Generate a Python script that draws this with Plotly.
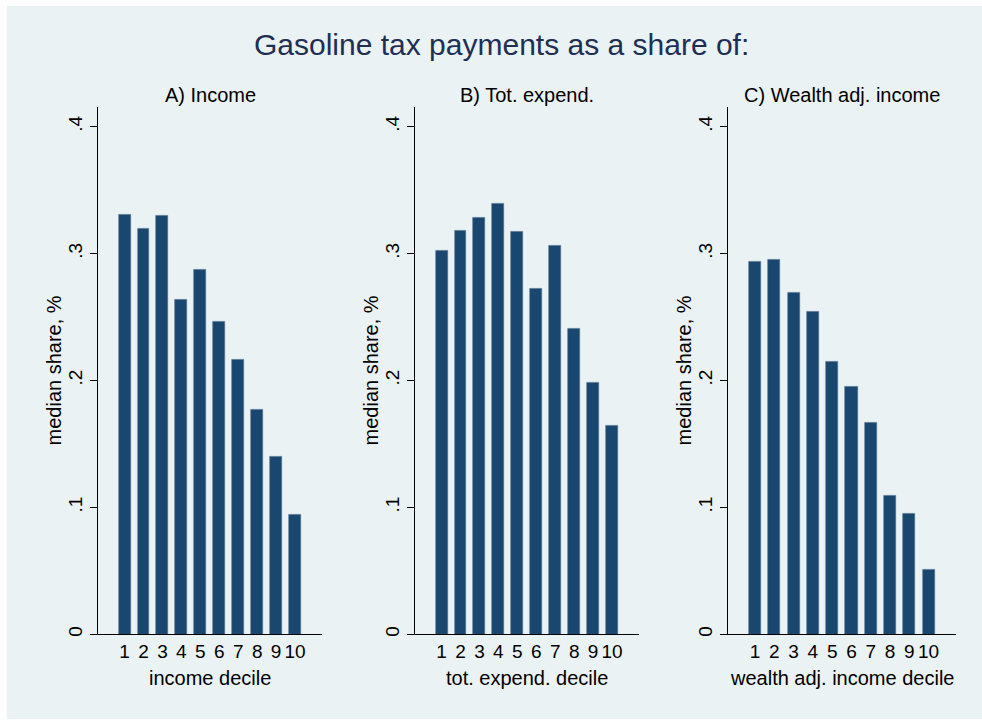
import plotly.graph_objects as go

# Median gasoline tax share (%) by decile, three ranking variables
deciles = list(range(1, 11))
share_income = [0.331, 0.320, 0.330, 0.264, 0.287, 0.246, 0.216, 0.177, 0.140, 0.094]
share_expend = [0.302, 0.318, 0.328, 0.339, 0.317, 0.272, 0.306, 0.241, 0.198, 0.164]
share_wealth = [0.294, 0.295, 0.269, 0.254, 0.215, 0.195, 0.167, 0.109, 0.095, 0.051]

panel_titles = ["A) Income", "B) Tot. expend.", "C) Wealth adj. income"]
x_titles = ["income decile", "tot. expend. decile", "wealth adj. income decile"]
y_title = "median share, %"
main_title = "Gasoline tax payments as a share of:"
y_ticks = [0, 0.1, 0.2, 0.3, 0.4]
y_tick_text = ["0", ".1", ".2", ".3", ".4"]
grid_vals = [0.1, 0.2, 0.3]

W, H = 982, 721
BAR = "#1a476f"
BG = "#eaf2f3"
FONT = "Liberation Sans, Arial, sans-serif"


def px_x(p):
    return p / W


def px_y(p):
    return 1 - p / H


# horizontal pixel extents of each plot region
x_spans = [(98, 322), (415, 639), (728, 956)]
y_top, y_bot = 107, 636

fig = go.Figure()
series = [share_income, share_expend, share_wealth]
for i, vals in enumerate(series):
    sfx = "" if i == 0 else str(i + 1)
    fig.add_trace(go.Bar(
        x=deciles, y=vals, width=0.63,
        marker=dict(color=BAR, line=dict(color="#4f6f90", width=0.6)),
        xaxis="x" + sfx, yaxis="y" + sfx, showlegend=False,
        hoverinfo="x+y",
    ))

layout = dict(
    width=W, height=H,
    margin=dict(l=0, r=0, t=0, b=0),
    paper_bgcolor="white",
    plot_bgcolor="white",
    font=dict(family=FONT, color="black"),
    bargap=0,
    shapes=[],
    annotations=[],
)

# light backdrop, leaving a thin white frame on the top and left
layout["shapes"].append(dict(
    type="rect", xref="paper", yref="paper",
    x0=px_x(7), x1=1.0, y0=0.0, y1=px_y(6),
    fillcolor=BG, line=dict(width=0), layer="below",
))

for i, (x0, x1) in enumerate(x_spans):
    sfx = "" if i == 0 else str(i + 1)
    xa = "xaxis" + sfx
    ya = "yaxis" + sfx
    layout[xa] = dict(
        domain=[px_x(x0), px_x(x1)], anchor="y" + sfx,
        range=[-0.4, 11.42], tickmode="array", tickvals=deciles,
        ticktext=[str(d) for d in deciles],
        ticks="", showline=True, linecolor="black", linewidth=1,
        showgrid=False, zeroline=False,
        tickfont=dict(size=19, family=FONT, color="black"),
        fixedrange=True,
    )
    layout[ya] = dict(
        domain=[px_y(y_bot), px_y(y_top)], anchor="x" + sfx,
        range=[0, 0.4158], tickmode="array", tickvals=y_ticks,
        ticktext=y_tick_text, tickangle=-90,
        ticks="outside", ticklen=7, tickcolor="black", tickwidth=1,
        showline=True, linecolor="black", linewidth=1,
        showgrid=False, zeroline=False,
        tickfont=dict(size=19, family=FONT, color="black"),
        fixedrange=True,
    )
    # horizontal grid lines
    for g in grid_vals:
        layout["shapes"].append(dict(
            type="line", xref="x" + sfx + " domain", yref="y" + sfx,
            x0=0, x1=1, y0=g, y1=g,
            line=dict(color=BG, width=1.5), layer="below",
        ))
    cx = px_x((x0 + x1) / 2)
    layout["annotations"] += [
        dict(text=panel_titles[i], xref="paper", yref="paper",
             x=cx, y=px_y(95), xanchor="center", yanchor="middle",
             showarrow=False, font=dict(size=20, family=FONT, color="black")),
        dict(text=x_titles[i], xref="paper", yref="paper",
             x=cx, y=px_y(680), xanchor="center", yanchor="middle",
             showarrow=False, font=dict(size=20, family=FONT, color="black")),
        dict(text=y_title, xref="paper", yref="paper",
             x=px_x(x0 - 44), y=px_y((y_top + y_bot) / 2),
             xanchor="center", yanchor="middle", textangle=-90,
             showarrow=False, font=dict(size=20, family=FONT, color="black")),
    ]

layout["annotations"].append(dict(
    text=main_title, xref="paper", yref="paper",
    x=px_x(501), y=px_y(45), xanchor="center", yanchor="middle",
    showarrow=False, font=dict(size=30, family=FONT, color="#1e2f55"),
))

fig.update_layout(**layout)
fig.write_html("out.html")
